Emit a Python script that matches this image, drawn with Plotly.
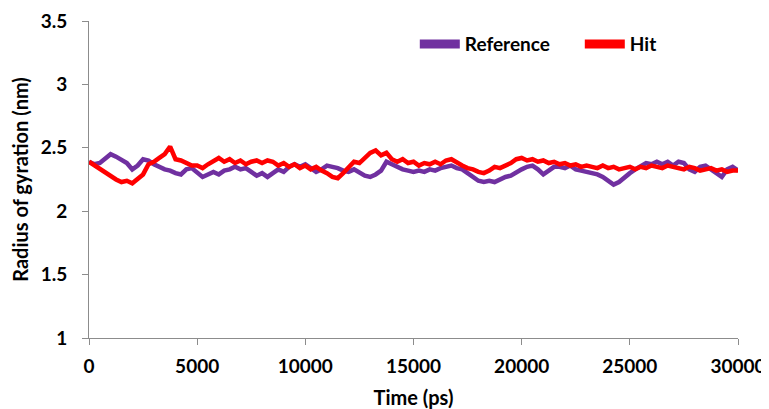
import plotly.graph_objects as go

TIME_PS = list(range(0, 30001, 250))

REFERENCE = [
    2.39, 2.37, 2.38, 2.42, 2.45, 2.43, 2.40, 2.38, 2.33, 2.36,
    2.41, 2.40, 2.37, 2.35, 2.33, 2.32, 2.30, 2.29, 2.33, 2.34,
    2.30, 2.27, 2.29, 2.31, 2.29, 2.32, 2.33, 2.35, 2.33, 2.34,
    2.31, 2.28, 2.30, 2.27, 2.30, 2.33, 2.31, 2.35, 2.37, 2.35,
    2.37, 2.34, 2.31, 2.33, 2.36, 2.35, 2.34, 2.32, 2.31, 2.33,
    2.30, 2.28, 2.27, 2.29, 2.32, 2.39, 2.37, 2.35, 2.33, 2.32,
    2.31, 2.32, 2.31, 2.33, 2.32, 2.34, 2.35, 2.36, 2.34, 2.33,
    2.30, 2.27, 2.24, 2.23, 2.24, 2.23, 2.25, 2.27, 2.28, 2.31,
    2.33, 2.35, 2.36, 2.33, 2.29, 2.32, 2.35, 2.35, 2.34, 2.36,
    2.33, 2.32, 2.31, 2.30, 2.29, 2.27, 2.24, 2.21, 2.23, 2.27,
    2.30, 2.33, 2.36, 2.38, 2.37, 2.39, 2.37, 2.39, 2.36, 2.39,
    2.38, 2.33, 2.31, 2.35, 2.36, 2.33, 2.30, 2.27, 2.33, 2.35,
    2.32,
]

HIT = [
    2.39, 2.36, 2.33, 2.30, 2.28, 2.25, 2.23, 2.24, 2.22, 2.25,
    2.29, 2.37, 2.39, 2.42, 2.45, 2.51, 2.41, 2.40, 2.38, 2.36,
    2.36, 2.34, 2.37, 2.40, 2.42, 2.39, 2.41, 2.38, 2.40, 2.37,
    2.39, 2.40, 2.38, 2.40, 2.39, 2.36, 2.38, 2.35, 2.37, 2.34,
    2.36, 2.33, 2.35, 2.32, 2.30, 2.27, 2.26, 2.30, 2.35, 2.39,
    2.38, 2.42, 2.46, 2.48, 2.44, 2.46, 2.41, 2.39, 2.41, 2.38,
    2.39, 2.36, 2.38, 2.37, 2.39, 2.37, 2.40, 2.41, 2.38, 2.36,
    2.34, 2.33, 2.31, 2.30, 2.32, 2.35, 2.34, 2.36, 2.38, 2.41,
    2.42, 2.40, 2.41, 2.39, 2.40, 2.38, 2.39, 2.37, 2.38, 2.36,
    2.37, 2.35, 2.36, 2.35, 2.34, 2.36, 2.34, 2.35, 2.33, 2.34,
    2.35, 2.33, 2.35, 2.34, 2.36, 2.35, 2.34, 2.36, 2.35, 2.34,
    2.33, 2.35, 2.34, 2.32, 2.33, 2.34, 2.32, 2.33, 2.31, 2.32,
    2.32,
]

SERIES_NAMES = ["Reference", "Hit"]
COLORS = ["#7030A0", "#FF0000"]
X_TICKS = [0, 5000, 10000, 15000, 20000, 25000, 30000]
Y_TICKS = [1, 1.5, 2, 2.5, 3, 3.5]

FONT = "Lato, 'Open Sans', sans-serif"

fig = go.Figure()
for name, ys, c in zip(SERIES_NAMES, [REFERENCE, HIT], COLORS):
    fig.add_trace(go.Scatter(x=TIME_PS, y=ys, mode="lines", name=name,
                             line=dict(color=c, width=4.5), showlegend=False))
    fig.add_trace(go.Scatter(x=[None], y=[None], mode="lines", name=name,
                             line=dict(color=c, width=9), showlegend=True))

axis_common = dict(
    showgrid=False, zeroline=False, showline=True, linecolor="#8C8C8C", linewidth=1,
    ticks="outside", ticklen=6, tickcolor="#8C8C8C", automargin=False,
    tickfont=dict(family=FONT, size=19, color="black", weight="bold"),
)

# page body has an 8px margin, so the figure is sized and offset accordingly
fig.update_layout(
    width=761, height=401,
    margin=dict(l=81, r=31, t=13, b=71, autoexpand=False),
    plot_bgcolor="white", paper_bgcolor="white",
    xaxis=dict(range=[0, 30000], tickvals=X_TICKS, ticktext=[str(v) for v in X_TICKS],
               ticklabelstandoff=5,
               title=dict(text="Time (ps)", standoff=16,
                          font=dict(family=FONT, size=20, color="black", weight="bold")),
               **axis_common),
    yaxis=dict(range=[1, 3.5], tickvals=Y_TICKS, ticktext=[f"{v:g}" for v in Y_TICKS],
               ticklabelstandoff=11,
               title=dict(text="Radius of gyration (nm)", standoff=6,
                          font=dict(family=FONT, size=20, color="black", weight="bold")),
               **axis_common),
    legend=dict(orientation="h", x=0.502, y=0.927, xanchor="left", yanchor="middle",
                font=dict(family=FONT, size=19, color="black", weight="bold"),
                bgcolor="rgba(0,0,0,0)", itemwidth=40, tracegroupgap=0,
                entrywidth=110),
)

fig.write_html("out.html")
